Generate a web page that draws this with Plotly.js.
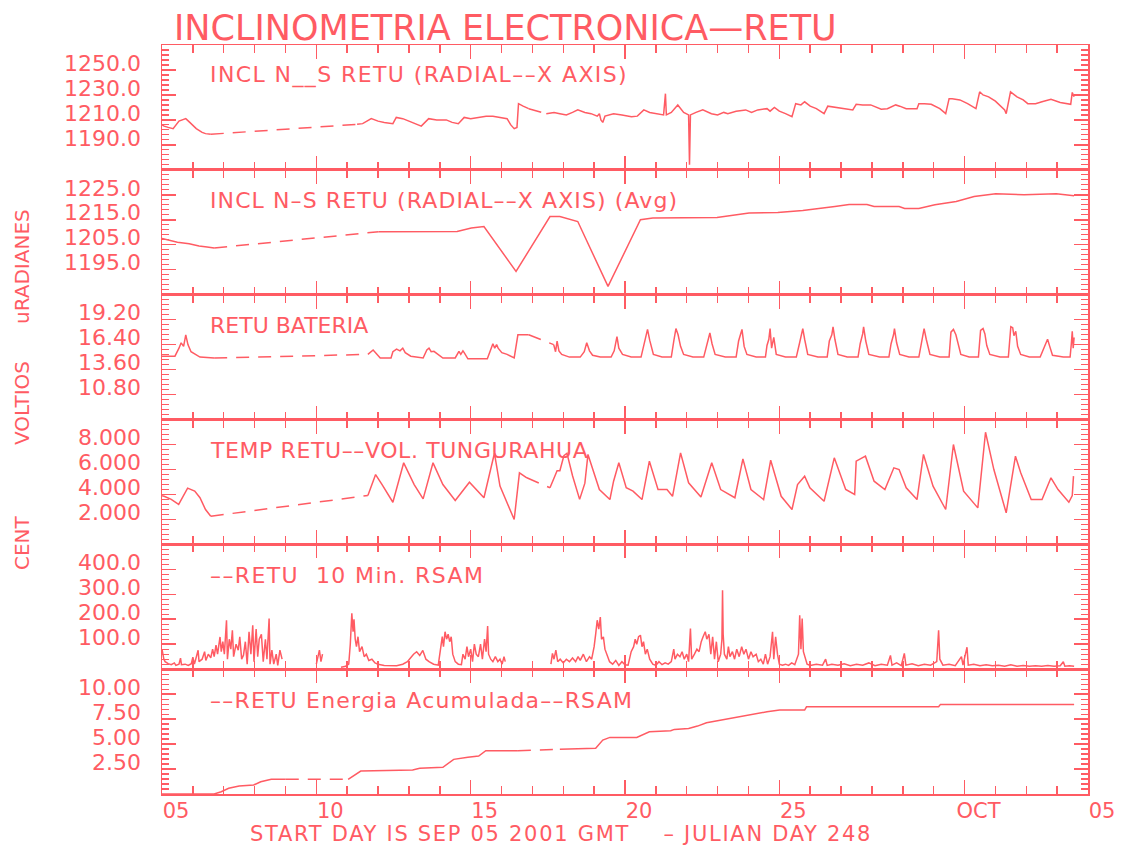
<!DOCTYPE html>
<html><head><meta charset="utf-8">
<script src="https://cdn.plot.ly/plotly-3.0.1.min.js"></script>
<style>body{margin:0;background:#fff}#chart{width:1122px;height:845px}</style>
</head><body><div id="chart"></div>
<script>
const RED = '#ff5b63';
const FONT = 'DejaVu Sans, Liberation Sans, sans-serif';

// x axis: days since SEP 05 2001 00:00 GMT
const xTickVals = [0, 5, 10, 15, 20, 26, 30];
const xTickText = ['05', '10', '15', '20', '25', 'OCT', '05'];

// ---------- Panel 1: INCL N__S RETU (raw) ; null = data gap (drawn dashed)
const p1Days = [0.00,0.07,0.20,0.36,0.55,0.77,0.90,1.11,1.30,1.41,1.58,null,
 6.32,6.50,6.78,7.00,7.20,7.48,7.59,7.80,8.00,8.20,8.40,8.64,8.90,9.21,9.40,9.60,9.79,10.00,10.30,10.50,10.72,10.95,11.18,11.30,11.41,11.50,11.55,11.70,11.88,null,
 12.45,12.70,12.89,13.10,13.30,13.47,13.70,13.90,14.10,14.17,14.22,14.28,14.35,14.63,14.90,15.21,15.40,15.61,15.80,16.00,16.25,16.31,16.34,16.50,16.71,16.90,17.06,17.09,17.12,17.30,17.52,17.80,18.00,18.20,18.33,18.60,18.91,19.10,19.30,19.60,19.70,19.84,20.00,20.20,20.41,20.53,20.70,20.82,21.00,21.20,21.45,21.57,21.90,22.20,22.38,22.49,22.70,22.96,23.30,23.50,23.77,23.90,24.11,24.46,24.52,24.70,24.92,25.20,25.39,25.50,25.60,25.85,26.10,26.37,26.49,26.60,26.78,27.00,27.30,27.35,27.49,27.70,27.90,28.05,28.30,28.51,28.80,29.10,29.44,29.49,29.55];
const p1Vals = [1206,1205,1204,1203,1209,1211,1208,1203,1200,1199,1198.5,null,
 1206.5,1207,1211,1209,1208,1207,1212,1211,1209,1207,1205,1211,1210,1210,1208,1207,1212,1211,1212,1213,1213,1212,1211,1206,1203,1204,1223,1221,1219,null,
 1215,1216,1215,1214,1216,1218,1216,1215,1213,1215,1210,1208,1213,1215,1214,1212.5,1213,1218,1216,1215,1214,1231,1214,1216,1222,1216,1214,1174,1214,1216,1218,1215,1214,1216,1215,1217,1218,1216,1218,1219,1217,1220,1217,1215,1212.5,1223,1222,1224.5,1221,1219,1215,1221,1220,1219,1218,1222.5,1222,1222,1218.5,1219,1222,1221,1219,1219,1223,1223,1222.5,1219,1215,1227,1227,1226,1223,1219,1232.5,1230,1228.5,1225,1218,1215,1232.5,1228.5,1226,1223,1223,1224.5,1226.5,1224,1222.5,1232,1228.5];
const p1Ticks = [1190, 1210, 1230, 1250];
const p1TickText = ['1190.0', '1210.0', '1230.0', '1250.0'];

// ---------- Panel 2: INCL N-S RETU (Avg)
const p2Days = [0.00,0.19,0.50,0.88,1.20,1.46,1.69,null,
 7.02,8.00,9.56,10.02,10.43,11.47,12.57,12.89,13.47,14.45,15.50,15.90,17.98,19.02,19.95,20.76,21.22,21.80,22.26,22.84,23.07,23.88,24.06,24.52,25.04,25.73,26.31,27.01,27.93,28.97,29.55];
const p2Vals = [1207.5,1207,1206,1205.4,1204.5,1204.1,1203.7,null,
 1210.2,1210.3,1210.3,1211.7,1212.3,1194.3,1216.3,1216.3,1214.3,1188.3,1215,1215.7,1215.9,1217.7,1217.9,1218.7,1219.3,1220.3,1221.1,1221.1,1220.3,1220.3,1219.5,1219.5,1221,1222.3,1224.3,1225.4,1225,1225.4,1224.6];
const p2Ticks = [1195, 1205, 1215, 1225];
const p2TickText = ['1195.0', '1205.0', '1215.0', '1225.0'];

// ---------- Panel 3: RETU BATERIA (volts)
const p3Days = [0.00,0.07,0.42,0.55,0.62,0.70,0.77,0.84,0.94,1.23,1.69,null,
 6.67,6.84,7.07,7.42,7.48,7.60,7.71,7.80,7.88,8.06,8.46,8.58,8.65,8.72,8.81,9.10,9.50,9.62,9.68,9.75,9.79,9.91,10.54,10.62,10.68,10.72,10.78,10.84,10.89,11.01,11.18,11.41,11.53,11.88,null,
 12.69,12.75,12.80,12.86,12.95,13.20,13.55,13.68,13.76,13.85,13.95,14.20,14.55,14.65,14.74,14.80,14.92,15.20,15.52,15.60,15.68,15.73,15.80,15.92,16.20,16.50,16.58,16.65,16.72,16.80,16.90,17.20,17.55,17.62,17.70,17.75,17.82,17.92,18.25,18.60,18.68,18.75,18.79,18.86,18.95,19.25,19.55,19.60,19.66,19.70,19.75,19.82,19.90,20.20,20.55,20.65,20.72,20.76,20.82,20.92,21.25,21.55,21.62,21.70,21.74,21.80,21.90,22.20,22.55,22.62,22.70,22.73,22.80,22.90,23.25,23.55,23.62,23.70,23.73,23.80,23.90,24.20,24.52,24.60,24.66,24.69,24.76,24.88,25.20,25.50,25.56,25.64,25.72,25.80,25.88,26.15,26.45,26.52,26.60,26.66,26.72,26.82,27.15,27.42,27.50,27.56,27.60,27.66,27.72,27.82,28.10,28.45,28.55,28.64,28.69,28.76,28.85,29.20,29.42,29.46,29.49,29.52,29.55];
const p3Vals = [15.1,15.1,15.1,16.0,16.6,16.2,17.5,16.4,15.6,15.0,14.9,null,
 15.3,15.8,14.9,14.9,15.6,15.9,15.7,16.0,15.5,15.1,14.9,15.8,16.0,15.6,15.65,14.9,14.9,15.65,15.3,15.7,15.5,14.8,14.8,15.6,16.1,16.5,16.0,16.4,16.0,15.5,15.3,14.9,17.5,17.5,null,
 16.4,15.6,16.8,15.7,15.3,15.0,15.0,15.6,16.6,15.7,15.2,15.0,15.0,15.7,17.3,16.0,15.3,15.0,15.0,16.3,17.6,18.1,16.9,15.3,15.0,15.0,16.8,18.2,17.5,16.2,15.3,15.0,15.0,16.0,17.0,17.7,16.5,15.3,15.0,15.0,16.8,17.6,18.1,16.2,15.3,15.0,15.0,16.3,17.0,18.2,16.0,17.2,15.3,15.0,15.0,16.5,17.5,18.2,17.0,15.3,15.0,15.0,16.8,17.5,18.4,17.0,15.3,15.0,15.0,16.5,17.6,18.4,16.8,15.3,15.0,15.0,16.5,17.5,18.2,16.6,15.3,15.0,15.0,16.6,17.8,18.2,17.0,15.3,15.0,15.0,17.8,18.1,17.5,16.5,15.3,15.0,15.0,18.0,18.2,17.6,16.3,15.3,15.0,15.0,18.4,18.3,17.4,17.9,16.2,15.3,15.0,15.0,15.8,16.4,17.0,16.2,15.2,15.0,15.0,16.5,17.9,16.0,17.2];
const p3Ticks = [10.8, 13.6, 16.4, 19.2];
const p3TickText = ['10.80', '13.60', '16.40', '19.20'];

// ---------- Panel 4: TEMP RETU (deg C)
const p4Days = [0.00,0.07,0.30,0.54,0.83,1.06,1.23,1.41,1.58,null,
 6.67,6.92,7.13,7.48,7.83,8.17,8.46,8.78,9.10,9.50,9.96,10.43,10.77,10.95,11.41,11.58,11.82,null,
 12.57,12.80,12.89,13.02,13.12,13.30,13.53,13.70,13.80,13.93,14.17,14.51,14.63,14.80,15.04,15.26,15.55,15.79,16.07,16.36,16.54,16.80,17.06,17.46,17.81,18.10,18.56,18.82,19.08,19.49,19.72,20.06,20.41,20.59,20.82,20.99,21.45,21.78,22.15,22.44,22.49,22.79,23.07,23.42,23.71,23.88,24.11,24.46,24.67,24.98,25.39,25.64,25.97,26.43,26.68,26.95,27.35,27.65,27.82,28.16,28.51,28.80,29.03,29.38,29.49,29.53];
const p4Vals = [3.9,3.85,3.6,3.2,4.5,4.26,3.73,2.79,2.25,null,
 3.91,5.59,4.79,3.37,6.53,4.79,3.64,6.53,4.79,3.51,4.98,3.73,7.3,4.66,1.99,5.73,5.33,null,
 4.53,5.9,5.9,7.1,7.3,5.5,3.6,4.9,7.2,6.26,4.39,3.59,5.06,6.53,4.53,4.26,3.59,6.66,4.39,4.39,3.85,7.33,4.93,3.80,6.53,4.39,3.73,6.85,4.39,3.59,6.74,3.85,2.79,4.79,5.46,4.53,3.45,6.93,4.39,3.99,6.66,7.06,5.06,4.39,6.13,5.99,4.53,3.59,7.20,4.66,2.79,8.00,4.26,2.92,8.98,5.99,2.52,7.06,5.73,3.59,3.59,5.33,4.39,3.37,3.91,5.46];
const p4Ticks = [2, 4, 6, 8];
const p4TickText = ['2.000', '4.000', '6.000', '8.000'];

// ---------- Panel 5: RETU 10 Min. RSAM ; null = gap (not connected)
const p5Days = [0.00,0.03,0.06,0.10,0.20,0.30,0.40,0.45,0.55,0.60,0.63,0.75,0.85,0.95,1.00,1.05,1.17,1.20,1.30,1.38,1.42,1.50,1.58,1.64,1.69,1.75,1.80,1.88,1.92,1.97,2.02,2.09,2.12,2.18,2.23,2.28,2.32,2.40,2.47,2.52,2.58,2.64,2.70,2.76,2.82,2.88,2.94,2.98,3.05,3.10,3.15,3.22,3.28,3.35,3.40,3.47,3.50,3.56,3.62,3.70,3.75,3.82,3.89,null,
 5.00,5.05,5.10,5.15,5.20,null,
 5.80,5.95,6.05,6.10,6.15,6.19,6.22,6.26,6.30,6.35,6.40,6.48,6.55,6.62,6.70,6.80,6.90,7.00,7.20,7.40,7.60,7.80,7.95,8.05,8.15,8.25,8.35,8.45,8.55,8.65,8.80,8.95,9.04,9.08,9.12,9.17,9.22,9.27,9.32,9.37,9.42,9.50,9.60,9.70,9.75,9.82,9.88,9.93,10.00,10.06,10.12,10.18,10.25,10.32,10.38,10.45,10.50,10.55,10.58,10.65,10.72,10.80,10.88,10.95,11.02,11.08,11.12,null,
 12.60,12.65,12.70,12.76,12.82,12.90,13.00,13.10,13.20,13.30,13.40,13.48,13.55,13.65,13.75,13.85,13.92,14.00,14.05,14.10,14.15,14.20,14.24,14.30,14.35,14.42,14.50,14.60,14.70,14.80,14.90,15.00,15.10,15.20,15.28,15.33,15.38,15.44,15.50,15.55,15.60,15.66,15.72,15.80,15.90,16.00,16.10,16.20,16.30,16.40,16.50,16.58,16.62,16.70,16.78,16.85,16.92,17.00,17.06,17.12,17.16,17.25,17.33,17.40,17.47,17.53,17.60,17.65,17.72,17.78,17.84,17.90,17.96,18.02,18.10,18.14,18.16,18.18,18.22,18.30,18.35,18.40,18.48,18.55,18.62,18.70,18.78,18.85,18.92,19.00,19.08,19.15,19.25,19.32,19.40,19.48,19.55,19.62,19.70,19.78,19.82,19.88,19.94,20.00,20.10,20.20,20.30,20.40,20.50,20.62,20.66,20.70,20.74,20.78,20.84,20.90,21.00,21.20,21.40,21.50,21.55,21.70,21.90,22.10,22.30,22.50,22.70,22.90,23.10,23.30,23.50,23.60,23.65,23.80,23.95,24.05,24.10,24.30,24.50,24.70,24.90,25.10,25.16,25.20,25.30,25.50,25.70,25.90,25.95,26.08,26.12,26.30,26.50,26.70,26.90,27.10,27.30,27.50,27.70,27.90,28.10,28.30,28.50,28.70,28.90,29.10,29.20,29.25,29.40,29.55];
const p5Vals = [80,60,40,30,22,18,25,15,20,44,18,20,15,22,48,20,76,30,40,70,35,60,45,80,50,96,60,129,70,110,60,196,40,120,80,156,50,100,76,130,40,56,110,20,150,60,176,30,161,50,120,140,30,120,40,203,20,76,20,60,15,76,40,null,
 20,50,76,30,60,null,
 8,12,20,100,224,150,200,120,90,130,70,90,50,60,35,40,25,20,15,16,14,20,30,45,60,70,55,75,40,30,20,16,100,130,90,150,120,140,110,130,60,30,20,18,60,40,90,50,80,30,100,60,50,100,40,120,70,173,60,40,30,50,30,40,20,50,30,null,
 20,63,40,76,30,40,25,40,30,45,30,50,35,60,30,50,40,90,140,196,160,209,120,129,80,60,30,20,35,15,30,18,16,70,90,120,100,130,136,90,110,60,80,40,20,15,30,18,25,20,30,80,40,60,50,70,40,60,30,163,40,60,80,70,110,130,150,120,140,60,130,40,110,30,60,120,316,140,60,40,90,50,70,40,80,50,90,60,80,40,70,50,60,30,40,20,60,20,50,150,40,130,60,20,16,20,15,25,18,60,216,80,203,70,40,20,15,20,16,40,15,20,16,22,14,20,16,25,14,20,16,55,16,25,14,63,16,22,14,20,16,30,156,40,16,20,14,50,16,88,16,20,14,18,14,16,12,18,12,15,12,14,12,15,12,14,30,12,14,12];
const p5Ticks = [100, 200, 300, 400];
const p5TickText = ['100.0', '200.0', '300.0', '400.0'];

// ---------- Panel 6: RETU Energia Acumulada (RSAM)
const p6Days = [0.00,1.69,1.92,2.16,2.50,2.97,3.20,3.54,4.01,null,
 6.03,6.21,6.44,8.12,8.35,9.10,9.45,9.91,10.26,10.49,11.53,null,
 12.89,14.05,14.28,14.51,15.38,15.61,15.79,16.48,16.60,17.06,17.35,17.64,18.10,18.45,19.14,19.60,20.01,20.82,20.88,25.16,25.22,29.55];
const p6Vals = [0,0,0.23,0.57,0.8,0.9,1.23,1.47,1.47,null,
 1.47,1.8,2.3,2.4,2.57,2.67,3.47,3.67,3.8,4.33,4.33,null,
 4.47,4.57,5.4,5.67,5.67,6.0,6.23,6.33,6.47,6.57,6.8,7.13,7.4,7.63,8.0,8.23,8.4,8.4,8.73,8.73,8.97,8.97];
const p6Ticks = [2.5, 5, 7.5, 10];
const p6TickText = ['2.50', '5.00', '7.50', '10.00'];

const panels = [
  {days: p1Days, vals: p1Vals, ticks: p1Ticks, text: p1TickText, range: [1170, 1270], minor: 4, dashGaps: true, label: 'INCL N__S RETU (RADIAL––X AXIS)', spacing: 1.4},
  {days: p2Days, vals: p2Vals, ticks: p2Ticks, text: p2TickText, range: [1185, 1235], minor: 2, dashGaps: true, label: 'INCL N–S RETU (RADIAL––X AXIS) (Avg)', spacing: 1.1},
  {days: p3Days, vals: p3Vals, ticks: p3Ticks, text: p3TickText, range: [8, 22], minor: 0.56, dashGaps: true, label: 'RETU BATERIA', spacing: 0},
  {days: p4Days, vals: p4Vals, ticks: p4Ticks, text: p4TickText, range: [0, 10], minor: 0.4, dashGaps: true, label: 'TEMP RETU––VOL. TUNGURAHUA', spacing: 0.6},
  {days: p5Days, vals: p5Vals, ticks: p5Ticks, text: p5TickText, range: [0, 500], minor: 20, dashGaps: false, label: '––RETU  10 Min. RSAM', spacing: 1.4},
  {days: p6Days, vals: p6Vals, ticks: p6Ticks, text: p6TickText, range: [0, 12.5], minor: 0.5, dashGaps: true, label: '––RETU Energia Acumulada––RSAM', spacing: 1.2}
];

const traces = [];
const layout = {
  width: 1122, height: 845,
  margin: {l: 162, r: 34, t: 45, b: 51},
  paper_bgcolor: '#ffffff', plot_bgcolor: '#ffffff',
  showlegend: false,
  font: {family: FONT, color: RED},
  title: {text: 'INCLINOMETRIA ELECTRONICA—RETU', font: {family: FONT, size: 35, color: RED},
          xref: 'container', yref: 'container', x: 174/1122, xanchor: 'left', y: 1 - 27.5/845, yanchor: 'middle'},
  annotations: [], shapes: []
};
const spacings = [];

panels.forEach((p, i) => {
  const k = i + 1;
  const xs = k === 1 ? 'x' : 'x' + k, ys = k === 1 ? 'y' : 'y' + k;
  traces.push({x: p.days, y: p.vals, xaxis: xs, yaxis: ys, type: 'scatter', mode: 'lines',
               connectgaps: false, line: {color: RED, width: 1.5}, hoverinfo: 'skip'});
  if (p.dashGaps) {
    const cx = [], cy = [];
    for (let j = 1; j < p.days.length - 1; j++) {
      if (p.days[j] === null) {
        cx.push(p.days[j-1], p.days[j+1], null);
        cy.push(p.vals[j-1], p.vals[j+1], null);
      }
    }
    traces.push({x: cx, y: cy, xaxis: xs, yaxis: ys, type: 'scatter', mode: 'lines',
                 connectgaps: false, line: {color: RED, width: 1.5, dash: '13px,9px'}, hoverinfo: 'skip'});
  }
  const xa = {
    domain: [0, 1], range: [0, 30], anchor: ys, showgrid: false, zeroline: false,
    showline: true, linecolor: RED, linewidth: 1.5, mirror: 'allticks',
    ticks: 'inside', ticklen: 14, tickwidth: 1.5, tickcolor: RED,
    tickmode: 'array', tickvals: xTickVals, ticktext: xTickText,
    showticklabels: k === 6, tickfont: {family: FONT, size: 21, color: RED},
    ticklabelshift: 14, ticklabelstandoff: -3,
    minor: {ticks: 'inside', ticklen: 8, tickwidth: 1.5, tickcolor: RED, tickmode: 'linear', tick0: 0, dtick: 1, showgrid: false},
    fixedrange: true
  };
  if (k > 1) xa.matches = 'x';
  layout[k === 1 ? 'xaxis' : 'xaxis' + k] = xa;
  layout[k === 1 ? 'yaxis' : 'yaxis' + k] = {
    domain: [1 - k/6, 1 - (k-1)/6], range: p.range, anchor: xs, showgrid: false, zeroline: false,
    showline: true, linecolor: RED, linewidth: 1.5, mirror: 'allticks',
    ticks: 'inside', ticklen: 14, tickwidth: 1.5, tickcolor: RED,
    tickmode: 'array', tickvals: p.ticks, ticktext: p.text,
    tickfont: {family: FONT, size: 22, color: RED},
    ticklabelshift: -7, ticklabelstandoff: 15,
    minor: {ticks: 'inside', ticklen: 7, tickwidth: 1.2, tickcolor: RED, tickmode: 'linear', tick0: p.range[0], dtick: p.minor, showgrid: false},
    fixedrange: true
  };
  const labelY = [75, 200.5, 325.5, 450, 575.5, 700][i];
  layout.annotations.push({text: p.label, xref: 'paper', yref: 'paper', x: (208-162)/926, y: (794 - labelY)/749,
    xanchor: 'left', yanchor: 'middle', showarrow: false, font: {family: FONT, size: 22, color: RED}});
  spacings.push(p.spacing);
});

layout.annotations.push(
  {text: 'START DAY IS SEP 05 2001 GMT    – JULIAN DAY 248', xref: 'paper', yref: 'paper', x: (248-162)/926, y: (794-834)/749,
   xanchor: 'left', yanchor: 'middle', showarrow: false, font: {family: FONT, size: 21, color: RED}},
  {text: 'uRADIANES', xref: 'paper', yref: 'paper', x: (22-162)/926, y: (794-267)/749, textangle: -90,
   xanchor: 'center', yanchor: 'middle', showarrow: false, font: {family: FONT, size: 20, color: RED}},
  {text: 'VOLTIOS', xref: 'paper', yref: 'paper', x: (22-162)/926, y: (794-403)/749, textangle: -90,
   xanchor: 'center', yanchor: 'middle', showarrow: false, font: {family: FONT, size: 20, color: RED}},
  {text: 'CENT', xref: 'paper', yref: 'paper', x: (22-162)/926, y: (794-543)/749, textangle: -90,
   xanchor: 'center', yanchor: 'middle', showarrow: false, font: {family: FONT, size: 20, color: RED}}
);
spacings.push(1.7, 0, 0, 0);

Plotly.newPlot('chart', traces, layout, {displayModeBar: false, staticPlot: true}).then(gd => {
  // wider letter spacing imitates the original plotter's stroke font; keep the left edge fixed
  gd.querySelectorAll('.annotation-text').forEach((t, i) => {
    if (!spacings[i]) return;
    const before = t.getBBox().x;
    t.style.letterSpacing = spacings[i] + 'px';
    const after = t.getBBox().x;
    t.setAttribute('transform', 'translate(' + (before - after) + ',0)');
  });
});
</script>
</body></html>
